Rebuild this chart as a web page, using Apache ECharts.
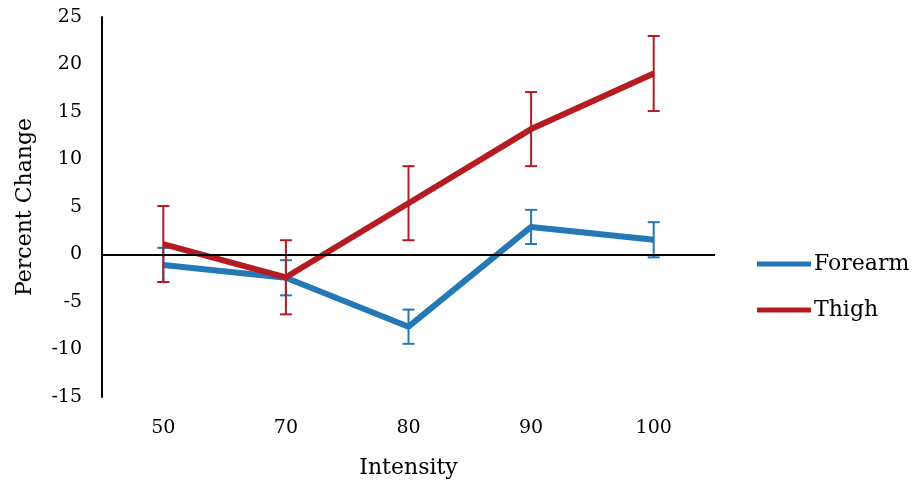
<!DOCTYPE html>
<html>
<head>
<meta charset="utf-8">
<script src="https://cdn.jsdelivr.net/npm/echarts@6/dist/echarts.min.js"></script>
<style>
  html, body { margin: 0; padding: 0; background: #fff; }
  #chart { width: 917px; height: 482px; }
</style>
</head>
<body>
<div id="chart"></div>
<script>
// 数据
var intensity = ['50', '70', '80', '90', '100'];
var forearmMean = [-1.1, -2.45, -7.6, 2.9, 1.55];
var forearmErr = [1.8, 1.85, 1.8, 1.8, 1.85];
var thighMean = [1.1, -2.4, 5.4, 13.2, 19.05];
var thighErr = [4.0, 3.9, 3.9, 3.9, 3.95];

var blue = '#2378b5';
var red = '#b51c22';
var font = 'DejaVu Serif';

// 误差线
function errorSeries(mean, err, color) {
	var data = [];
	for (var i = 0; i < mean.length; i++) {
		data.push([i, mean[i] - err[i], mean[i] + err[i]]);
	}
	return {
		type: 'custom',
		silent: true,
		data: data,
		renderItem: function (params, api) {
			var lo = api.coord([api.value(0), api.value(1)]);
			var hi = api.coord([api.value(0), api.value(2)]);
			var w = 6;
			var style = { stroke: color, lineWidth: 2, fill: null };
			return {
				type: 'group',
				children: [
					{ type: 'line', shape: { x1: hi[0], y1: hi[1], x2: lo[0], y2: lo[1] }, style: style },
					{ type: 'line', shape: { x1: hi[0] - w, y1: hi[1], x2: hi[0] + w, y2: hi[1] }, style: style },
					{ type: 'line', shape: { x1: lo[0] - w, y1: lo[1], x2: lo[0] + w, y2: lo[1] }, style: style }
				]
			};
		},
		z: 3
	};
}

var myChart = echarts.init(document.getElementById('chart'));
var option = {
	animation: false,
	textStyle: { fontFamily: font },
	grid: { left: 102, right: 202, top: 17, bottom: 85, containLabel: false, outerBoundsMode: 'none' },
	legend: {
		orient: 'vertical',
		left: 752,
		top: 248,
		itemGap: 24,
		itemWidth: 54,
		itemHeight: 5,
		icon: 'rect',
		textStyle: { fontFamily: font, fontSize: 22, color: '#000', padding: [0, 0, 0, -2] },
		data: ['Forearm', 'Thigh']
	},
	xAxis: {
		type: 'category',
		data: intensity,
		name: 'Intensity',
		nameLocation: 'middle',
		nameGap: 60,
		nameTextStyle: { fontFamily: font, fontSize: 22, color: '#000' },
		axisLine: { show: false },
		axisTick: { show: false },
		axisLabel: { fontFamily: font, fontSize: 19, color: '#000', margin: 22 }
	},
	yAxis: {
		type: 'value',
		min: -15,
		max: 25,
		interval: 5,
		name: 'Percent Change',
		nameLocation: 'middle',
		nameGap: 66,
		nameTextStyle: { fontFamily: font, fontSize: 22, color: '#000' },
		axisLine: { show: true, lineStyle: { color: '#000', width: 2 } },
		axisTick: { show: false },
		splitLine: { show: false },
		axisLabel: { fontFamily: font, fontSize: 19, color: '#000', margin: 20 }
	},
	series: [
		{
			name: 'Forearm',
			type: 'line',
			data: forearmMean,
			symbol: 'none',
			color: blue,
			lineStyle: { width: 6, color: blue },
			z: 2,
			markLine: {
				silent: true,
				symbol: 'none',
				label: { show: false },
				lineStyle: { color: '#000', width: 2, type: 'solid' },
				data: [{ yAxis: 0 }]
			}
		},
		errorSeries(forearmMean, forearmErr, blue),
		{
			name: 'Thigh',
			type: 'line',
			data: thighMean,
			symbol: 'none',
			color: red,
			lineStyle: { width: 6, color: red },
			z: 4
		},
		errorSeries(thighMean, thighErr, red)
	]
};
myChart.setOption(option);
</script>
</body>
</html>
